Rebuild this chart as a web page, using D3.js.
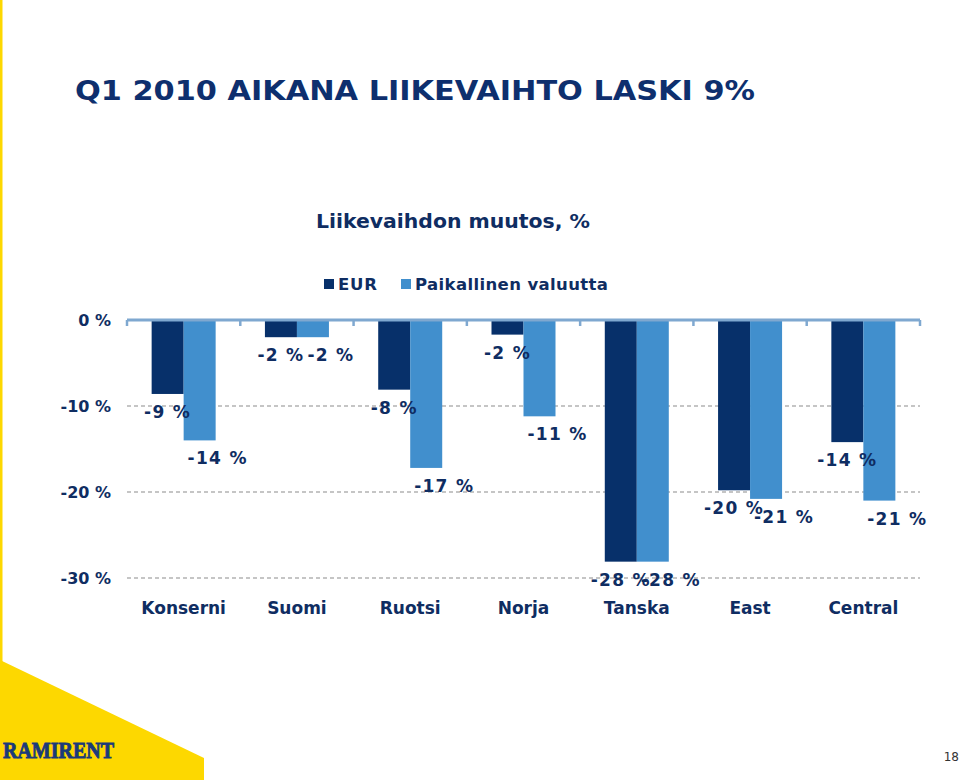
<!DOCTYPE html>
<html><head><meta charset="utf-8">
<script src="https://cdn.jsdelivr.net/npm/d3@7/dist/d3.min.js"></script>
<style>body{margin:0;background:#fff}svg{display:block}</style>
</head><body>
<svg id="c" width="960" height="780"></svg>
<script>
const categories = ["Konserni","Suomi","Ruotsi","Norja","Tanska","East","Central"];
const seriesNames = ["EUR","Paikallinen valuutta"];
const eurValues = [-8.6,-2.0,-8.1,-1.7,-28.1,-19.8,-14.2];
const localValues = [-14.0,-2.0,-17.2,-11.2,-28.1,-20.8,-21.0];
const yTicks = [0,-10,-20,-30];
const titleText = "Q1 2010 AIKANA LIIKEVAIHTO LASKI 9%";
const chartTitle = "Liikevaihdon muutos, %";

const colors = ["#07306a","#418fcd"];
const navy = "#0f2d62";
const font = "DejaVu Sans, Verdana, sans-serif";
const svg = d3.select("#c");

// decoration
svg.append("rect").attr("x",0).attr("y",0).attr("width",2.5).attr("height",662).attr("fill","#fdd800");
svg.append("path").attr("d","M0,660 L204,758 L204,780 L0,780 Z").attr("fill","#fdd800");
svg.append("text").attr("x",3).attr("y",758).attr("font-family","Liberation Serif, serif")
  .attr("font-weight","bold").attr("font-size",23).attr("fill","#1b3a7a")
  .attr("stroke","#1b3a7a").attr("stroke-width",0.9)
  .attr("textLength",111).attr("lengthAdjust","spacingAndGlyphs").text("RAMIRENT");
svg.append("text").attr("x",959).attr("y",761).attr("text-anchor","end")
  .attr("font-family","DejaVu Sans, sans-serif").attr("font-size",12).attr("fill","#333").text("18");

// title
svg.append("text").attr("x",75).attr("y",100).attr("font-family",font)
  .attr("font-weight","bold").attr("font-size",27).attr("fill","#0e2f6e")
  .attr("textLength",680).attr("lengthAdjust","spacingAndGlyphs").text(titleText);

svg.append("text").attr("x",453).attr("y",228).attr("text-anchor","middle").attr("font-family",font)
  .attr("font-weight","bold").attr("font-size",19).attr("fill",navy)
  .attr("textLength",274).attr("lengthAdjust","spacingAndGlyphs").text(chartTitle);

// legend
const legX = [324,401];
const legW = [39,193];
seriesNames.forEach((s,i)=>{
  svg.append("rect").attr("x",legX[i]).attr("y",279).attr("width",10).attr("height",10).attr("fill",colors[i]);
  svg.append("text").attr("x",legX[i]+14).attr("y",290).attr("font-family",font).attr("font-weight","bold")
    .attr("font-size",16.5).attr("fill",navy)
    .attr("textLength",legW[i]).attr("lengthAdjust","spacing").text(s);
});

const x = d3.scaleBand().domain(categories).range([127,920]).paddingInner(0).paddingOuter(0);
const x1 = d3.scaleBand().domain(seriesNames).range([0,x.bandwidth()]).paddingInner(0).paddingOuter(0.77);
const y = d3.scaleLinear().domain([-30,0]).range([578,320]);

// grid
svg.append("g").selectAll("line").data(yTicks.filter(d=>d!==0)).join("line")
  .attr("x1",127).attr("x2",920).attr("y1",d=>y(d)).attr("y2",d=>y(d))
  .attr("stroke","#b3b3b3").attr("stroke-width",1.5).attr("stroke-dasharray","4,3");

// y labels
svg.append("g").selectAll("text").data(yTicks).join("text")
  .attr("x",111).attr("y",d=>y(d)+6).attr("text-anchor","end").attr("font-family",font)
  .attr("font-weight","bold").attr("font-size",16).attr("fill",navy).text(d=>`${d} %`);

// bars
const data = categories.map((c,i)=>({c, vals:[eurValues[i],localValues[i]]}));
const g = svg.append("g");
data.forEach(d=>{
  d.vals.forEach((v,j)=>{
    const s = seriesNames[j];
    const bx = x(d.c)+x1(s);
    g.append("rect").attr("x",bx).attr("y",y(0)).attr("width",x1.bandwidth())
      .attr("height",y(v)-y(0)).attr("fill",colors[j]);
  });
});

// axis line with ticks
svg.append("line").attr("x1",127).attr("x2",920).attr("y1",y(0)).attr("y2",y(0))
  .attr("stroke","#7fa8d0").attr("stroke-width",3);
const bounds = categories.map(c=>x(c)).concat([x.range()[1]]);
svg.append("g").selectAll("line").data(bounds).join("line")
  .attr("x1",d=>d).attr("x2",d=>d).attr("y1",y(0)).attr("y2",y(0)+6)
  .attr("stroke","#7fa8d0").attr("stroke-width",2.5);

// value labels
data.forEach(d=>{
  d.vals.forEach((v,j)=>{
    const s = seriesNames[j];
    const cx = x(d.c)+x1(s)+x1.bandwidth()/2 + (j===1?18:0);
    svg.append("text").attr("x",cx).attr("y",y(v)+24).attr("text-anchor","middle")
      .attr("font-family",font).attr("font-weight","bold").attr("font-size",17)
      .attr("letter-spacing",1.3).attr("fill",navy)
      .text(`${Math.round(v)} %`);
  });
});

// category labels
svg.append("g").selectAll("text").data(categories).join("text")
  .attr("x",d=>x(d)+x.bandwidth()/2).attr("y",614).attr("text-anchor","middle")
  .attr("font-family",font).attr("font-weight","bold").attr("font-size",17).attr("fill",navy).text(d=>d);
</script>
</body></html>
